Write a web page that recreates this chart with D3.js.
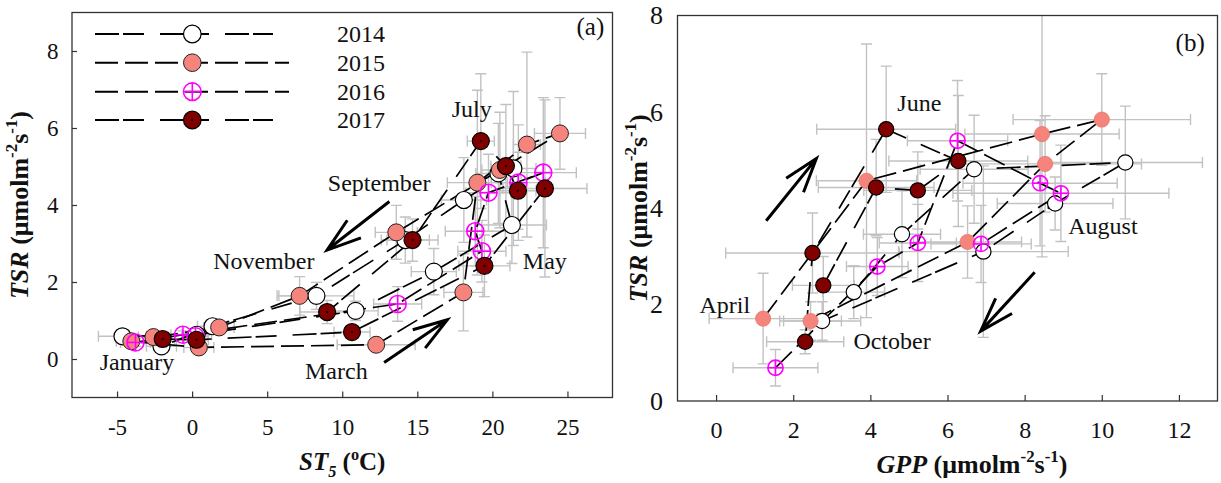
<!DOCTYPE html>
<html>
<head>
<meta charset="utf-8">
<script src="https://cdn.jsdelivr.net/npm/d3@7/dist/d3.min.js"></script>
<style>
html,body{margin:0;padding:0;background:#fff;}
svg{display:block;}
svg text{font-family:"Liberation Serif","Tinos","Times New Roman","DejaVu Serif",serif;fill:#111;}
</style>
</head>
<body>
<svg id="chart" width="1221" height="483" font-family='"Liberation Serif","Tinos","Times New Roman","DejaVu Serif",serif'></svg>
<script>
const years = ["2014", "2015", "2016", "2017"];
const monthsA = ["Jan","Feb","Mar","Apr","May","Jun","Jul","Aug","Sep","Oct","Nov","Dec"];
const monthsB = ["Apr","May","Jun","Jul","Aug","Sep","Oct"];

// ---------- Panel (a): ST5 (°C) vs TSR, monthly ----------
const st5_2014 = [-4.64, 0.30, 10.89, 16.1, 21.3, 20.4, 21.4, 18.1, 14.2, 8.28, 1.36, -2.04];
const tsrA_2014 = [0.59, 0.63, 1.25, 2.27, 3.48, 4.82, 4.95, 4.13, 3.09, 1.64, 0.85, 0.33];
const st5Err_2014 = [1.6, 1.0, 1.5, 1.5, 2.3, 1.5, 1.5, 1.5, 1.6, 2.5, 1.0, 1.0];
const tsrAErr_2014 = [0.1, 0.1, 0.25, 0.6, 1.0, 1.3, 2.0, 1.1, 0.6, 0.35, 0.15, 0.1];

const st5_2015 = [-4.05, 0.45, 12.26, 18.07, 19.0, 22.3, 24.5, 20.5, 13.6, 7.16, 1.8, -2.58];
const tsrA_2015 = [0.46, 0.30, 0.37, 1.73, 4.58, 5.57, 5.86, 4.91, 3.29, 1.64, 0.82, 0.57];
const st5Err_2015 = [1.0, 1.0, 2.6, 1.3, 2.0, 0.9, 1.7, 1.2, 1.4, 1.5, 1.0, 1.0];
const tsrAErr_2015 = [0.1, 0.1, 0.1, 1.0, 2.4, 2.4, 0.93, 1.5, 0.7, 0.5, 0.15, 0.1];

const st5_2016 = [-3.77, -0.61, 13.69, 19.3, 18.86, 19.74, 23.39, 21.73, null, null, null, 0.22];
const tsrA_2016 = [0.43, 0.63, 1.43, 2.80, 3.32, 4.32, 4.84, 4.58, null, null, null, 0.59];
const st5Err_2016 = [1.0, 0.8, 1.6, 1.6, 2.0, 1.5, 2.2, 1.8, null, null, null, 0.8];
const tsrAErr_2016 = [0.1, 0.1, 0.45, 0.8, 0.9, 1.0, 1.95, 1.5, null, null, null, 0.1];

const st5_2017 = [-1.96, 0.29, 10.65, 19.47, 23.5, 21.7, 20.9, 19.23, 14.68, 8.99, null, null];
const tsrA_2017 = [0.52, 0.50, 0.70, 2.42, 4.43, 4.37, 5.01, 5.66, 3.09, 1.22, null, null];
const st5Err_2017 = [0.8, 0.8, 1.2, 1.7, 2.8, 1.2, 1.0, 0.9, 1.7, 1.8, null, null];
const tsrAErr_2017 = [0.1, 0.1, 0.15, 0.8, 2.3, 1.0, 1.6, 1.75, 0.55, 0.3, null, null];

// ---------- Panel (b): GPP vs TSR, April–October ----------
const gpp_2014 = [3.57, 4.82, 6.69, 10.61, 8.79, 6.93, 2.75];
const tsrB_2014 = [2.26, 3.46, 4.81, 4.95, 4.10, 3.10, 1.66];
const gppErr_2014 = [0.8, 1.0, 1.4, 2.0, 1.5, 2.2, 1.0];
const tsrBErr_2014 = [0.55, 0.9, 1.12, 1.17, 0.55, 1.78, 0.4];

const gpp_2015 = [1.22, 3.90, 8.45, 10.0, 8.53, 6.52, 2.45];
const tsrB_2015 = [1.71, 4.57, 5.54, 5.84, 4.92, 3.30, 1.66];
const gppErr_2015 = [1.4, 1.3, 2.0, 2.3, 2.5, 1.4, 0.8];
const tsrBErr_2015 = [0.94, 2.84, 2.55, 0.95, 1.0, 0.75, 0.4];

const gpp_2016 = [1.54, 4.18, 5.23, 6.26, 8.40, 8.94, 6.87];
const tsrB_2016 = [0.69, 2.79, 3.28, 5.40, 4.52, 4.31, 3.26];
const gppErr_2016 = [1.1, 0.8, 1.0, 1.3, 2.0, 2.8, 1.3];
const tsrBErr_2016 = [0.38, 0.6, 0.8, 1.25, 1.3, 1.0, 0.8];

const gpp_2017 = [2.78, 4.15, 5.23, 6.28, 4.41, 2.50, 2.31];
const tsrB_2017 = [2.40, 4.43, 4.37, 4.98, 5.64, 3.07, 1.23];
const gppErr_2017 = [0.8, 1.5, 1.4, 1.8, 1.8, 2.25, 1.0];
const tsrBErr_2017 = [0.6, 1.0, 0.8, 1.36, 1.31, 0.83, 0.25];

// tick values
const xTicksA = [-5, 0, 5, 10, 15, 20, 25];
const yTicksA = [0, 2, 4, 6, 8];
const xTicksB = [0, 2, 4, 6, 8, 10, 12];
const yTicksB = [0, 2, 4, 6, 8];

// annotations (data coordinates)
const labelsA = [
  {t: "January", x: -6.16, y: -0.28},
  {t: "March", x: 7.52, y: -0.51},
  {t: "November", x: 1.4, y: 2.35},
  {t: "September", x: 9.04, y: 4.36},
  {t: "July", x: 17.29, y: 6.28},
  {t: "May", x: 22.03, y: 2.35}
];
const arrowsA = [
  {x0: 13.14, y0: 4.09, x1: 8.99, y1: 2.83},
  {x0: 12.79, y0: -0.09, x1: 17.0, y1: 1.02}
];
const labelsB = [
  {t: "June", x: 4.70, y: 6.02},
  {t: "April", x: -0.43, y: 1.83},
  {t: "August", x: 9.13, y: 3.46},
  {t: "October", x: 3.56, y: 1.08}
];
const arrowsB = [
  {x0: 1.30, y0: 3.74, x1: 2.60, y1: 5.03},
  {x0: 8.26, y0: 2.67, x1: 6.86, y1: 1.45}
];

// ---------- build ----------
const st5 = {"2014": st5_2014, "2015": st5_2015, "2016": st5_2016, "2017": st5_2017};
const tsrA = {"2014": tsrA_2014, "2015": tsrA_2015, "2016": tsrA_2016, "2017": tsrA_2017};
const st5Err = {"2014": st5Err_2014, "2015": st5Err_2015, "2016": st5Err_2016, "2017": st5Err_2017};
const tsrAErr = {"2014": tsrAErr_2014, "2015": tsrAErr_2015, "2016": tsrAErr_2016, "2017": tsrAErr_2017};
const gpp = {"2014": gpp_2014, "2015": gpp_2015, "2016": gpp_2016, "2017": gpp_2017};
const tsrB = {"2014": tsrB_2014, "2015": tsrB_2015, "2016": tsrB_2016, "2017": tsrB_2017};
const gppErr = {"2014": gppErr_2014, "2015": gppErr_2015, "2016": gppErr_2016, "2017": gppErr_2017};
const tsrBErr = {"2014": tsrBErr_2014, "2015": tsrBErr_2015, "2016": tsrBErr_2016, "2017": tsrBErr_2017};

function buildSeries(xs, ys, exs, eys, months) {
  return years.map(yr => ({
    year: yr,
    pts: months.map((m, j) => ({m, x: xs[yr][j], y: ys[yr][j], ex: exs[yr][j], ey: eys[yr][j]}))
  }));
}
const seriesA = buildSeries(st5, tsrA, st5Err, tsrAErr, monthsA);
const seriesB = buildSeries(gpp, tsrB, gppErr, tsrBErr, monthsB);

const style = {
  "2014": {dash: "24,4,21,16"},
  "2015": {dash: "23,7"},
  "2016": {dash: "23,7"},
  "2017": {dash: "24,4,21,16"}
};
const FONT = '"Liberation Serif","Tinos","Times New Roman","DejaVu Serif",serif';

const svg = d3.select("#chart");
const defs = svg.append("defs");

const boxA = {l: 72, r: 612.5, t: 12.5, b: 397.5};
const boxB = {l: 677.5, r: 1217.5, t: 15.5, b: 401};
const xA = d3.scaleLinear().domain([-8, 28]).range([boxA.l, boxA.r]);
const yA = d3.scaleLinear().domain([-1, 9]).range([boxA.b, boxA.t]);
const xB = d3.scaleLinear().domain([-1, 13]).range([boxB.l, boxB.r]);
const yB = d3.scaleLinear().domain([0, 8]).range([boxB.b, boxB.t]);

function txt(sel) { return sel.attr("font-family", FONT).style("font-family", FONT); }

function drawMarker(g, yr, r, full) {
  if (yr === "2014") {
    g.append("circle").attr("r", r).attr("fill", "#fff").attr("stroke", "#000").attr("stroke-width", 1.2);
  } else if (yr === "2015") {
    g.append("circle").attr("r", r).attr("fill", "#F4847C")
      .attr("stroke", full ? "#222" : "#E7776F").attr("stroke-width", full ? 1.0 : 0.8);
  } else if (yr === "2016") {
    g.append("circle").attr("r", r).attr("fill", "none").attr("stroke", "#FF00FF").attr("stroke-width", 1.6);
    g.append("line").attr("x1", -r).attr("x2", r).attr("stroke", "#FF00FF").attr("stroke-width", 1.6);
    g.append("line").attr("y1", -r).attr("y2", r).attr("stroke", "#FF00FF").attr("stroke-width", 1.6);
  } else {
    g.append("circle").attr("r", r).attr("fill", "#800000").attr("stroke", "#000").attr("stroke-width", 1.2);
    if (full) g.append("circle").attr("r", 1.1).attr("fill", "#000");
  }
}

function arrow(g, x0, y0, x1, y1) {
  const ang = Math.atan2(y0 - y1, x0 - x1);
  const L = 36, h = 18 * Math.PI / 180;
  const a1 = [x1 + L * Math.cos(ang + h), y1 + L * Math.sin(ang + h)];
  const a2 = [x1 + L * Math.cos(ang - h), y1 + L * Math.sin(ang - h)];
  g.append("path")
    .attr("d", `M${x0},${y0}L${x1},${y1}M${a1[0]},${a1[1]}L${x1},${y1}L${a2[0]},${a2[1]}`)
    .attr("fill", "none").attr("stroke", "#000").attr("stroke-width", 3).attr("stroke-linecap", "butt");
}

function richText(g, x, y, rot, parts, size) {
  const t = txt(g.append("text")).attr("text-anchor", "middle").attr("font-weight", "bold")
    .attr("font-size", size).attr("transform", `translate(${x},${y}) rotate(${rot})`);
  let shift = 0;
  parts.forEach(p => {
    const ts = t.append("tspan").text(p.t);
    const target = p.sup ? -0.42 * size : (p.sub ? 0.28 * size : 0);
    if (target !== shift) { ts.attr("dy", target - shift); shift = target; }
    if (p.sup || p.sub) ts.attr("font-size", size * 0.65);
    if (p.it) ts.attr("font-style", "italic");
  });
}

function drawPanel(id, box, xS, yS, series, o) {
  const g = svg.append("g");
  defs.append("clipPath").attr("id", "clip" + id).append("rect")
    .attr("x", box.l).attr("y", box.t).attr("width", box.r - box.l).attr("height", box.b - box.t);
  const plot = g.append("g").attr("clip-path", `url(#clip${id})`);

  // error bars
  const eb = plot.append("g").attr("stroke", "#C2C2C2").attr("stroke-width", 1.4).attr("fill", "none");
  const cap = 5.5;
  series.forEach(s => s.pts.filter(p => p.x != null).forEach(p => {
    const cx = xS(p.x), cy = yS(p.y);
    const xl = xS(p.x - p.ex), xr = xS(p.x + p.ex), yt = yS(p.y + p.ey), yb = yS(p.y - p.ey);
    eb.append("path").attr("d",
      `M${xl},${cy}H${xr}M${xl},${cy - cap}V${cy + cap}M${xr},${cy - cap}V${cy + cap}` +
      `M${cx},${yt}V${yb}M${cx - cap},${yt}H${cx + cap}M${cx - cap},${yb}H${cx + cap}`);
  }));

  // connecting dashed lines
  const line = d3.line().defined(p => p.x != null).x(p => xS(p.x)).y(p => yS(p.y));
  series.forEach(s => {
    plot.append("path").datum(s.pts).attr("d", line).attr("fill", "none")
      .attr("stroke", "#000").attr("stroke-width", 1.7).attr("stroke-dasharray", style[s.year].dash);
  });

  // markers
  const mk = g.append("g");
  series.forEach(s => {
    mk.selectAll(null).data(s.pts.filter(p => p.x != null)).enter().append("g")
      .attr("transform", p => `translate(${xS(p.x)},${yS(p.y)})`)
      .each(function () { drawMarker(d3.select(this), s.year, o.r, o.full); });
  });

  // annotations
  o.labels.forEach(l => {
    txt(g.append("text")).attr("x", xS(l.x)).attr("y", yS(l.y)).attr("font-size", 24).text(l.t);
  });
  o.arrows.forEach(a => arrow(g, xS(a.x0), yS(a.y0), xS(a.x1), yS(a.y1)));
  txt(g.append("text")).attr("x", xS(o.tag.x)).attr("y", yS(o.tag.y)).attr("text-anchor", "end")
    .attr("font-size", 25).text(o.tag.t);

  // frame
  g.append("rect").attr("x", box.l).attr("y", box.t).attr("width", box.r - box.l).attr("height", box.b - box.t)
    .attr("fill", "none").attr("stroke", "#333").attr("stroke-width", 1.3);

  // axes
  const ax = g.append("g").attr("transform", `translate(0,${box.b})`)
    .call(d3.axisBottom(xS).tickValues(o.xt).tickSizeInner(-6).tickSizeOuter(0).tickPadding(o.xpad).tickFormat(d => String(d)));
  ax.select(".domain").remove();
  ax.attr("color", "#333").attr("font-family", FONT);
  txt(ax.selectAll("text")).style("font-size", o.xfs + "px").style("fill", "#111");
  ax.selectAll("line").attr("stroke-width", 1.2);

  const ay = g.append("g").attr("transform", `translate(${box.l},0)`)
    .call(d3.axisLeft(yS).tickValues(o.yt).tickSizeInner(o.ytick).tickSizeOuter(0).tickPadding(o.ypad).tickFormat(d => String(d)));
  ay.select(".domain").remove();
  ay.attr("color", "#333").attr("font-family", FONT);
  txt(ay.selectAll("text")).style("font-size", o.yfs + "px").style("fill", "#111");
  ay.selectAll("line").attr("stroke-width", 1.2);
  return g;
}

drawPanel("A", boxA, xA, yA, seriesA, {
  r: 8.5, full: true, labels: labelsA, arrows: arrowsA, tag: {t: "(a)", x: 27.45, y: 8.42},
  xt: xTicksA, yt: yTicksA, xpad: 21, ypad: 13.5, ytick: -5, xfs: 23, yfs: 23
});
drawPanel("B", boxB, xB, yB, seriesB, {
  r: 7.6, full: false, labels: labelsB, arrows: arrowsB, tag: {t: "(b)", x: 12.67, y: 7.26},
  xt: xTicksB, yt: yTicksB, xpad: 20, ypad: 14.5, ytick: 0, xfs: 24, yfs: 26
});

// axis titles
const tsrParts = [{t: "TSR", it: 1}, {t: " (\u03bcmolm"}, {t: "-2", sup: 1}, {t: "s"}, {t: "-1", sup: 1}, {t: ")"}];
richText(svg, (boxA.l + boxA.r) / 2, 470, 0, [{t: "ST", it: 1}, {t: "5", it: 1, sub: 1}, {t: " ("}, {t: "o", sup: 1}, {t: "C)"}], 25);
richText(svg, 28, (boxA.t + boxA.b) / 2, -90, tsrParts, 26);
richText(svg, 972, 473, 0, [{t: "GPP", it: 1}, {t: " (\u03bcmolm"}, {t: "-2", sup: 1}, {t: "s"}, {t: "-1", sup: 1}, {t: ")"}], 26);
richText(svg, 647, (boxB.t + boxB.b) / 2, -90, tsrParts, 26);

// legend (panel a)
const legRows = [34, 62.7, 91.7, 120];
const legEnd = {"2014": 273, "2015": 289, "2016": 289, "2017": 273};
const leg = svg.append("g");
years.forEach((yr, i) => {
  const y = legRows[i];
  leg.append("line").attr("x1", 95).attr("x2", legEnd[yr]).attr("y1", y).attr("y2", y)
    .attr("stroke", "#000").attr("stroke-width", 2).attr("stroke-dasharray", style[yr].dash);
  const m = leg.append("g").attr("transform", `translate(192.3,${y})`);
  drawMarker(m, yr, 8.8, true);
  txt(leg.append("text")).attr("x", 337).attr("y", y + 8).attr("font-size", 24).text(yr);
});
</script>
</body>
</html>
